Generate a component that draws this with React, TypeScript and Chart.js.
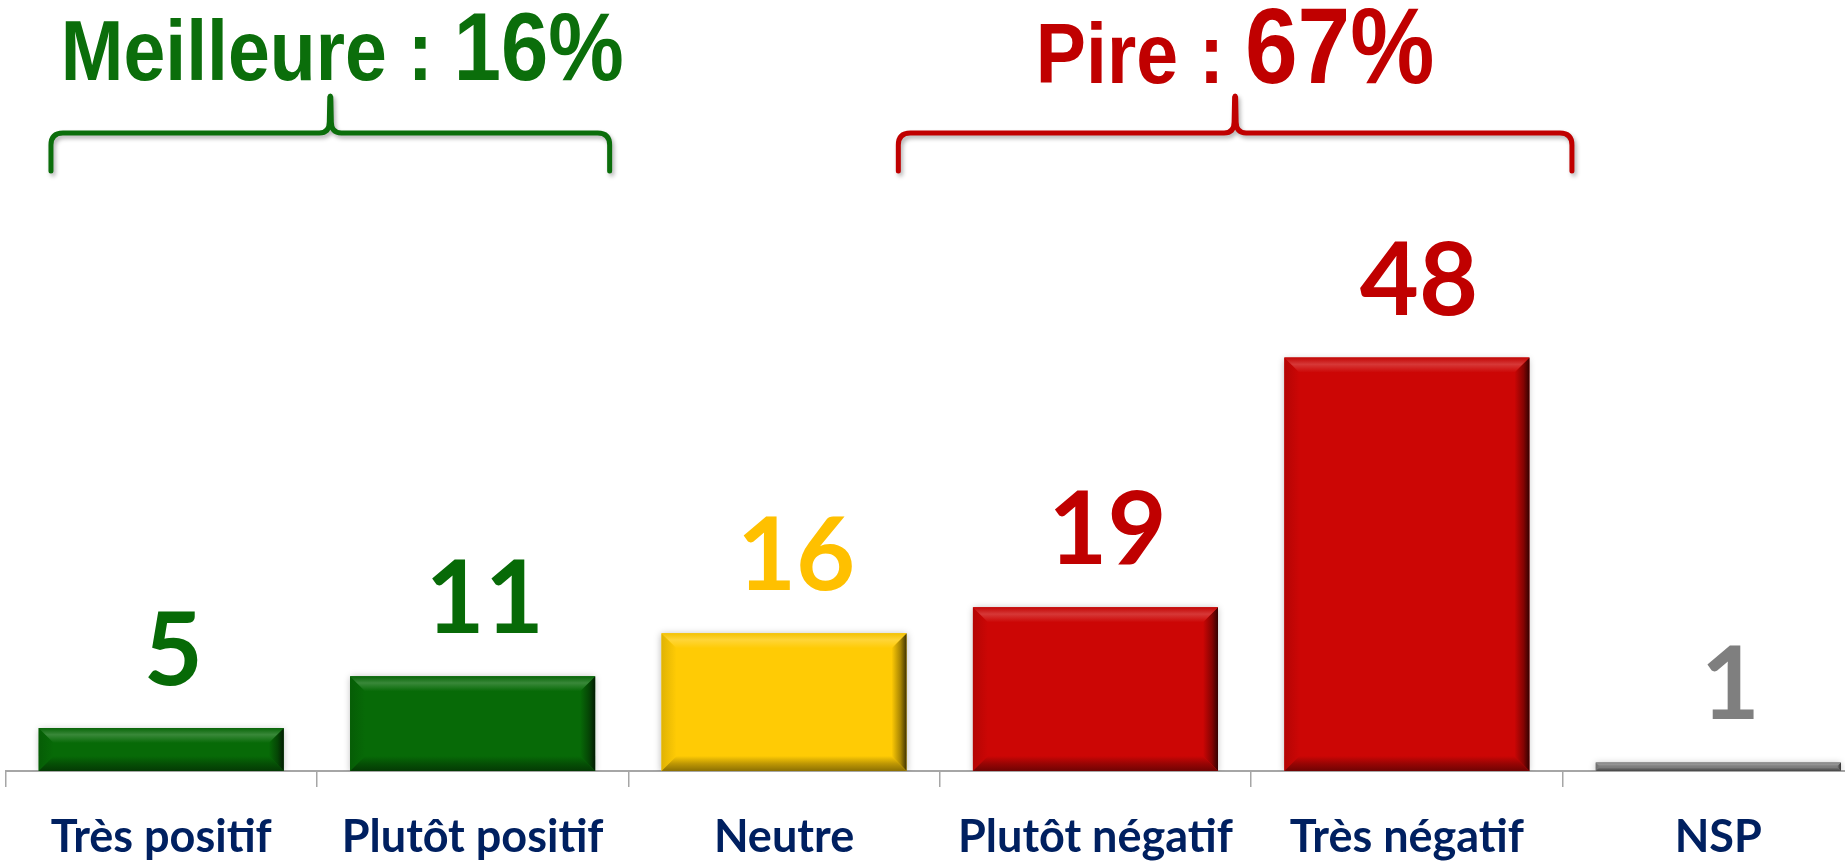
import React, { useEffect, useRef } from "react";
import { Chart, registerables } from "chart.js";

Chart.register(...registerables);

const categories = ["Très positif", "Plutôt positif", "Neutre", "Plutôt négatif", "Très négatif", "NSP"];
const values = [5, 11, 16, 19, 48, 1];
const barColors = ["#076A07", "#076A07", "#FFCB05", "#CC0605", "#CC0605", "#7F7F7F"];
const labelColors = ["#076A07", "#076A07", "#FFC000", "#C00000", "#C00000", "#7F7F7F"];

const groupTitles = ["Meilleure : ", "Pire : "];
const groupTotals = ["16%", "67%"];
const groupColors = ["#0B6E0B", "#C00000"];
const groupFrom = [-0.354, 2.367];
const groupTo = [1.44, 4.53];
const groupTitleSize = 85;
const groupTotalSizes = [96, 107];
const groupTextShift = [12, 0];

function shade(hex: string, amt: number): string {
  const n = parseInt(hex.slice(1), 16);
  let r = (n >> 16) & 255, g = (n >> 8) & 255, b = n & 255;
  if (amt >= 0) {
    r = Math.round(r + (255 - r) * amt);
    g = Math.round(g + (255 - g) * amt);
    b = Math.round(b + (255 - b) * amt);
  } else {
    r = Math.round(r * (1 + amt));
    g = Math.round(g * (1 + amt));
    b = Math.round(b * (1 + amt));
  }
  return `rgb(${r},${g},${b})`;
}

function poly(ctx: CanvasRenderingContext2D, pts: number[][], fill: any) {
  ctx.beginPath();
  ctx.moveTo(pts[0][0], pts[0][1]);
  for (let i = 1; i < pts.length; i++) ctx.lineTo(pts[i][0], pts[i][1]);
  ctx.closePath();
  ctx.fillStyle = fill;
  ctx.fill();
}

const decorPlugin = {
  id: "decor",
  beforeDatasetsDraw(chart: any) {
    const ctx = chart.ctx;
    ctx.save();
    ctx.shadowColor = "rgba(0,0,0,0.28)";
    ctx.shadowBlur = 7;
    ctx.shadowOffsetX = 0;
    ctx.shadowOffsetY = 1;
  },
  afterDatasetsDraw(chart: any) {
    const ctx: CanvasRenderingContext2D = chart.ctx;
    ctx.restore();
    const meta = chart.getDatasetMeta(0);
    meta.data.forEach((bar: any, i: number) => {
      const { x, y, base, width } = bar.getProps(["x", "y", "base", "width"], true);
      const l = x - width / 2, r = x + width / 2, t = y, b = base;
      const h = b - t;
      const bv = Math.min(15, h / 2.3);
      const c = barColors[i];
      ctx.save();
      let g: any = ctx.createLinearGradient(l, 0, l + bv, 0);
      g.addColorStop(0, shade(c, -0.12));
      g.addColorStop(1, c);
      poly(ctx, [[l, t], [l + bv, t + bv], [l + bv, b - bv], [l, b]], g);
      g = ctx.createLinearGradient(r - bv, 0, r, 0);
      g.addColorStop(0, c);
      g.addColorStop(0.6, shade(c, -0.35));
      g.addColorStop(1, shade(c, -0.75));
      poly(ctx, [[r, t], [r, b], [r - bv, b - bv], [r - bv, t + bv]], g);
      g = ctx.createLinearGradient(0, t, 0, t + bv);
      g.addColorStop(0, shade(c, -0.05));
      g.addColorStop(0.45, shade(c, 0.2));
      g.addColorStop(1, c);
      poly(ctx, [[l, t], [r, t], [r - bv, t + bv], [l + bv, t + bv]], g);
      g = ctx.createLinearGradient(0, b - bv, 0, b);
      g.addColorStop(0, c);
      g.addColorStop(0.5, shade(c, -0.25));
      g.addColorStop(1, shade(c, -0.45));
      poly(ctx, [[l, b], [r, b], [r - bv, b - bv], [l + bv, b - bv]], g);
      ctx.restore();

      ctx.save();
      ctx.font = "bold 102px Lato, 'Open Sans', sans-serif";
      ctx.fillStyle = labelColors[i];
      ctx.textAlign = "center";
      ctx.textBaseline = "alphabetic";
      ctx.fillText(String(values[i]), x + 12, t - 43);
      ctx.restore();
    });

    const xs = chart.scales.x;
    const catW = xs.getPixelForValue(1) - xs.getPixelForValue(0);
    const px = (v: number) => xs.getPixelForValue(0) + v * catW;
    for (let k = 0; k < groupTitles.length; k++) {
      const L = px(groupFrom[k]);
      const R = px(groupTo[k]);
      const C = (L + R) / 2;
      const yH = 133, yB = 171, yP = 95, rc = 12, rp = 11;
      ctx.save();
      ctx.strokeStyle = groupColors[k];
      ctx.lineWidth = 5;
      ctx.lineCap = "round";
      ctx.lineJoin = "round";
      ctx.shadowColor = "rgba(0,0,0,0.3)";
      ctx.shadowBlur = 4;
      ctx.shadowOffsetX = 2;
      ctx.shadowOffsetY = 3;
      ctx.beginPath();
      ctx.moveTo(L, yB);
      ctx.lineTo(L, yH + rc);
      ctx.quadraticCurveTo(L, yH, L + rc, yH);
      ctx.lineTo(C - rp, yH);
      ctx.quadraticCurveTo(C - 1, yH, C - 1, yH - rp);
      ctx.lineTo(C - 0.5, yP + 2);
      ctx.quadraticCurveTo(C, yP, C + 0.5, yP + 2);
      ctx.lineTo(C + 1, yH - rp);
      ctx.quadraticCurveTo(C + 1, yH, C + rp, yH);
      ctx.lineTo(R - rc, yH);
      ctx.quadraticCurveTo(R, yH, R, yH + rc);
      ctx.lineTo(R, yB);
      ctx.stroke();
      ctx.restore();

      ctx.save();
      ctx.fillStyle = groupColors[k];
      ctx.textBaseline = "alphabetic";
      ctx.textAlign = "left";
      const sx = 0.885;
      const f1 = `bold ${groupTitleSize}px 'Liberation Sans', Arial, sans-serif`;
      const f2 = `bold ${groupTotalSizes[k]}px 'Liberation Sans', Arial, sans-serif`;
      ctx.font = f1;
      const w1 = ctx.measureText(groupTitles[k]).width * sx;
      ctx.font = f2;
      const w2 = ctx.measureText(groupTotals[k]).width * sx;
      const x0 = C + groupTextShift[k] - (w1 + w2) / 2;
      const yb = k === 0 ? 80 : 83;
      ctx.translate(x0, yb);
      ctx.scale(sx, 1);
      ctx.font = f1;
      ctx.fillText(groupTitles[k], 0, 0);
      ctx.font = f2;
      ctx.fillText(groupTotals[k], w1 / sx, 0);
      ctx.restore();
    }
  },
};

export default function App() {
  const ref = useRef<HTMLCanvasElement | null>(null);
  useEffect(() => {
    if (!ref.current) return;
    const chart = new Chart(ref.current, {
      type: "bar",
      data: {
        labels: categories,
        datasets: [
          {
            data: values,
            backgroundColor: barColors,
            borderWidth: 0,
            barPercentage: 0.787,
            categoryPercentage: 1,
          },
        ],
      },
      options: {
        responsive: false,
        animation: false,
        devicePixelRatio: 1,
        layout: { padding: { left: 5.5, right: 6, top: 82, bottom: 0 } },
        plugins: { legend: { display: false }, tooltip: { enabled: false } },
        scales: {
          y: { display: false, min: 0, max: 80 },
          x: {
            afterFit: (s: any) => {
              s.height = 93;
            },
            border: { display: true, color: "#A6A6A6", width: 2 },
            grid: {
              display: true,
              drawOnChartArea: false,
              drawTicks: true,
              tickLength: 16,
              color: "#A6A6A6",
              lineWidth: 1.5,
              offset: true,
            },
            ticks: {
              color: "#002060",
              padding: 23,
              maxRotation: 0,
              autoSkip: false,
              font: { family: "Lato, 'Open Sans', sans-serif", weight: "bold", size: 45 },
            },
          },
        },
      },
      plugins: [decorPlugin],
    });
    return () => chart.destroy();
  }, []);
  return (
    <div style={{ position: "absolute", left: 0, top: 0, width: 1845, height: 864, overflow: "hidden", background: "#fff" }}>
      <canvas ref={ref} width={1880} height={864} style={{ display: "block" }} />
    </div>
  );
}
